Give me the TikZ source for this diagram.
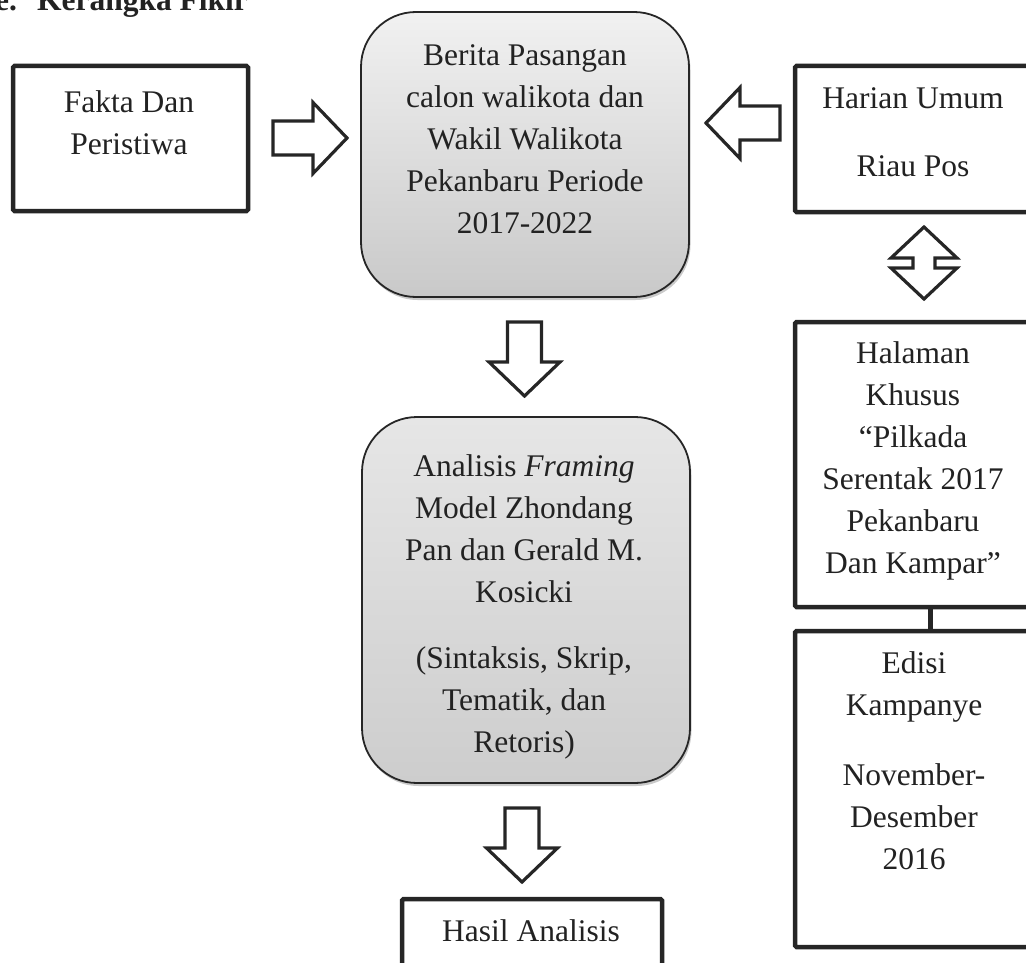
\documentclass[tikz,border=0pt]{standalone}
\usepackage{fontspec}
\setmainfont{Liberation Serif}
\usetikzlibrary{shadows,calc}
\definecolor{ink}{HTML}{222222}
\definecolor{edge}{HTML}{262626}
\definecolor{bertop}{HTML}{F1F1F1}
\definecolor{berbot}{HTML}{C9C9C9}
\definecolor{anatop}{HTML}{E6E6E6}
\definecolor{anabot}{HTML}{CDCDCD}
\begin{document}
\begin{tikzpicture}[x=1pt,y=-1pt,
  txt/.style={font=\fontsize{31.5}{42}\selectfont, text=ink, align=center, inner sep=0pt, anchor=north},
  sqbox/.style={draw=edge, line width=4.5pt, rounded corners=1.5pt, fill=white, inner sep=0pt},
  rbox/.style={draw=edge, line width=1.8pt, rounded corners=55pt, inner sep=0pt,
    drop shadow={shadow xshift=1.5pt, shadow yshift=-3pt, opacity=0.35, fill=black!60}},
  arrowline/.style={draw=edge, line width=3.2pt, fill=white, line join=miter},
  blockarr/.pic={\path[arrowline] (0,-17) -- (40,-17) -- (40,-35.5) -- (74,0) -- (40,35.5) -- (40,17) -- (0,17) -- cycle;},
  conn/.style={draw=edge, line width=5pt}
]
\useasboundingbox (0,0) rectangle (1026,963);
\clip (0,0) rectangle (1026,963);

% title
\node[font=\bfseries\fontsize{31.5}{42}\selectfont, text=ink, inner sep=0pt, anchor=base west] (title) at (-5,11) {e.\hspace{20pt}Kerangka Fikir};

% boxes
\node[sqbox, minimum width=235pt, minimum height=145pt] (fakta) at (130.5,138.5) {};
\node[txt] (faktaT) at (129,82.6) {\strut Fakta Dan\\Peristiwa};

\node[rbox, top color=bertop, bottom color=berbot, minimum width=328pt, minimum height=285pt] (berita) at (525,154.5) {};
\node[txt] (beritaT) at (525,35.6) {\strut Berita Pasangan\\calon walikota dan\\Wakil Walikota\\Pekanbaru Periode\\2017-2022};

\node[sqbox, minimum width=239pt, minimum height=146pt] (harian) at (914.5,139) {};
\node[txt] (harianT) at (913,78.6) {\strut Harian Umum\\[26pt]Riau Pos};

\node[sqbox, minimum width=239pt, minimum height=285pt] (halaman) at (914.5,464.5) {};
\node[txt] (halamanT) at (913,333.6) {\strut Halaman\\Khusus\\“Pilkada\\Serentak 2017\\Pekanbaru\\Dan Kampar”};

\node[sqbox, minimum width=239pt, minimum height=316pt] (edisi) at (914.5,789) {};
\node[txt] (edisiT) at (914,643.6) {\strut Edisi\\Kampanye\\[28pt]November-\\Desember\\2016};

\node[rbox, top color=anatop, bottom color=anabot, minimum width=328pt, minimum height=366pt] (analisis) at (526,600) {};
\node[txt] (analisisT) at (524,446.6) {\strut Analisis \textit{Framing}\\Model Zhondang\\Pan dan Gerald M.\\Kosicki\\[24pt](Sintaksis, Skrip,\\Tematik, dan\\Retoris)};

\node[sqbox, minimum width=260pt, minimum height=100pt] (hasil) at (532,949) {};
\node[txt] (hasilT) at (531,911.6) {\strut Hasil Analisis};

% connector between Halaman and Edisi
\draw[conn] ($(halaman.south)+(15.5,0)$) -- ($(edisi.north)+(15.5,0)$);

% block arrows
\pic at (273,138) {blockarr};
\pic[rotate=180] at (780,123) {blockarr};
\pic[rotate=-90] at (524.5,322) {blockarr};
\pic[rotate=-90] at (522,808) {blockarr};

% up-down arrow
\path[arrowline] (924,227) -- (957,258) -- (935,258) -- (935,268) -- (957,268) -- (924,299)
  -- (891,268) -- (913,268) -- (913,258) -- (891,258) -- cycle;
\end{tikzpicture}
\end{document}
